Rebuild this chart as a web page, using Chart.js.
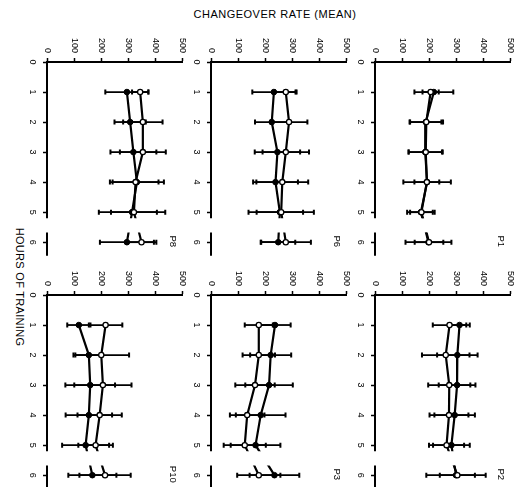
<!DOCTYPE html>
<html>
<head>
<meta charset="utf-8">
<script src="https://cdn.jsdelivr.net/npm/chart.js@4.4.0/dist/chart.umd.min.js"></script>
<style>
  html, body { margin: 0; padding: 0; background: #fff; }
  #page {
    position: relative; width: 524px; height: 487px; overflow: hidden;
    background: #fff; color: #000;
    font-family: "Liberation Sans", Arial, sans-serif;
  }
  #page canvas { position: absolute; }
  .title {
    position: absolute; left: 155px; top: 9px; width: 240px;
    text-align: center; font-size: 11px; line-height: 11px; letter-spacing: 0.5px;
  }
  .hlabel {
    position: absolute; left: -50px; top: 281px; width: 140px; height: 12px;
    line-height: 12px; text-align: center; font-size: 11px; letter-spacing: 0.3px;
    transform: rotate(90deg);
  }
</style>
</head>
<body>
<div id="page">
  <div class="title">CHANGEOVER RATE (MEAN)</div>
  <div class="hlabel">HOURS OF TRAINING</div>
  <canvas id="p8"></canvas>
  <canvas id="p6"></canvas>
  <canvas id="p1"></canvas>
  <canvas id="p10"></canvas>
  <canvas id="p3"></canvas>
  <canvas id="p2"></canvas>
</div>
<script>
// Data
const hours = [1, 2, 3, 4, 5, 6];
const valueTicks = [0, 100, 200, 300, 400, 500];
const hourTicks = [0, 1, 2, 3, 4, 5, 6];

const p8Filled = [296, 308, 320, 333, 315, 296];
const p8FilledSd = [80, 58, 85, 100, 123, 100];
const p8Open = [345, 355, 355, 328, 322, 350];
const p8OpenSd = [30, 73, 85, 85, 85, 55];

const p6Filled = [233, 225, 246, 239, 255, 249];
const p6FilledSd = [80, 62, 84, 83, 86, 63];
const p6Open = [277, 289, 277, 264, 260, 277];
const p6OpenSd = [40, 68, 86, 96, 121, 93];

const p1Filled = [218, 188, 186, 193, 170, 198];
const p1FilledSd = [72, 58, 62, 88, 51, 85];
const p1Open = [206, 190, 188, 192, 172, 200];
const p1OpenSd = [30, 62, 63, 46, 42, 53];

const p10Filled = [118, 155, 160, 155, 143, 168];
const p10FilledSd = [43, 50, 92, 86, 87, 89];
const p10Open = [217, 201, 207, 195, 180, 215];
const p10OpenSd = [62, 103, 106, 82, 64, 95];

const p3Filled = [237, 221, 215, 184, 165, 235];
const p3FilledSd = [58, 76, 88, 92, 92, 92];
const p3Open = [177, 177, 163, 134, 125, 177];
const p3OpenSd = [52, 60, 73, 64, 78, 80];

const p2Filled = [313, 305, 304, 295, 283, 300];
const p2FilledSd = [38, 75, 68, 75, 68, 110];
const p2Open = [276, 262, 275, 274, 265, 305];
const p2OpenSd = [62, 88, 78, 72, 65, 65];

// Break in the hours axis between hour 5 and hour 6
const breakFrom = 5.2;
const breakTo = 5.68;

const PAD_L = 32, PAD_T = 32, PAD_R = 14, PAD_B = 4;
const AREA_W = 135, AREA_H = 195;

const panels = [
  { id: 'p8', name: 'P8', x0: 47, y0: 62, filled: p8Filled, filledSd: p8FilledSd, open: p8Open, openSd: p8OpenSd },
  { id: 'p6', name: 'P6', x0: 211, y0: 62, filled: p6Filled, filledSd: p6FilledSd, open: p6Open, openSd: p6OpenSd },
  { id: 'p1', name: 'P1', x0: 375, y0: 62, filled: p1Filled, filledSd: p1FilledSd, open: p1Open, openSd: p1OpenSd },
  { id: 'p10', name: 'P10', x0: 47, y0: 295, filled: p10Filled, filledSd: p10FilledSd, open: p10Open, openSd: p10OpenSd },
  { id: 'p3', name: 'P3', x0: 211, y0: 295, filled: p3Filled, filledSd: p3FilledSd, open: p3Open, openSd: p3OpenSd },
  { id: 'p2', name: 'P2', x0: 375, y0: 295, filled: p2Filled, filledSd: p2FilledSd, open: p2Open, openSd: p2OpenSd },
];

const LABEL_FONT = '9px "Liberation Sans", Arial, sans-serif';

function rotatedText(ctx, text, x, y, align) {
  ctx.save();
  ctx.translate(x, y);
  ctx.rotate(Math.PI / 2);
  ctx.textAlign = align;
  ctx.textBaseline = 'middle';
  ctx.fillText(text, 0, 0);
  ctx.restore();
}

// Error bars, axis break, rotated labels
const panelDecor = {
  id: 'panelDecor',
  beforeDatasetsDraw(chart) {
    const ctx = chart.ctx;
    const xs = chart.scales.x;
    const ys = chart.scales.y;
    ctx.save();
    ctx.strokeStyle = '#000';
    chart.data.datasets.forEach((ds) => {
      ds.data.forEach((pt, i) => {
        const e = ds.sd[i];
        const xl = xs.getPixelForValue(pt.x - e);
        const xr = xs.getPixelForValue(pt.x + e);
        const y = ys.getPixelForValue(pt.y);
        ctx.lineWidth = 1.8;
        ctx.beginPath();
        ctx.moveTo(xl, y);
        ctx.lineTo(xr, y);
        ctx.stroke();
        ctx.lineWidth = 2;
        ctx.beginPath();
        ctx.moveTo(xl, y - 2.5);
        ctx.lineTo(xl, y + 2.5);
        ctx.moveTo(xr, y - 2.5);
        ctx.lineTo(xr, y + 2.5);
        ctx.stroke();
      });
    });
    ctx.restore();

    // hide the connecting lines inside the axis break
    const yb1 = ys.getPixelForValue(breakFrom);
    const yb2 = ys.getPixelForValue(breakTo);
    ctx.save();
    ctx.beginPath();
    ctx.rect(0, 0, chart.width, yb1);
    ctx.rect(0, yb2, chart.width, chart.height - yb2);
    ctx.clip();
  },
  afterDatasetsDraw(chart) {
    const ctx = chart.ctx;
    ctx.restore();

    const xs = chart.scales.x;
    const ys = chart.scales.y;
    const area = chart.chartArea;

    // hours axis, drawn in two pieces
    ctx.save();
    ctx.strokeStyle = '#000';
    ctx.lineWidth = 2;
    ctx.beginPath();
    ctx.moveTo(area.left, ys.getPixelForValue(0) - 1);
    ctx.lineTo(area.left, ys.getPixelForValue(breakFrom));
    ctx.moveTo(area.left, ys.getPixelForValue(breakTo));
    ctx.lineTo(area.left, area.bottom);
    ctx.stroke();

    ctx.fillStyle = '#000';
    ctx.font = LABEL_FONT;
    valueTicks.forEach((v) => {
      rotatedText(ctx, String(v), xs.getPixelForValue(v), area.top - 9, 'right');
    });
    hourTicks.forEach((h) => {
      rotatedText(ctx, String(h), area.left - 14.5, ys.getPixelForValue(h), 'center');
    });

    ctx.font = '9.5px "Liberation Sans", Arial, sans-serif';
    rotatedText(ctx, chart.options.plugins.panelDecor.name,
      xs.getPixelForValue(465), ys.getPixelForValue(5.97), 'center');
    ctx.restore();
  },
};

function makePanel(p) {
  const canvas = document.getElementById(p.id);
  canvas.width = PAD_L + AREA_W + PAD_R;
  canvas.height = PAD_T + AREA_H + PAD_B;
  canvas.style.left = (p.x0 - PAD_L) + 'px';
  canvas.style.top = (p.y0 - PAD_T) + 'px';

  return new Chart(canvas, {
    type: 'scatter',
    data: {
      datasets: [
        {
          data: hours.map((h, i) => ({ x: p.open[i], y: h })),
          sd: p.openSd,
          showLine: true,
          borderColor: '#000',
          borderWidth: 2.2,
          pointRadius: 2.6,
          pointBorderWidth: 1.3,
          pointBorderColor: '#000',
          pointBackgroundColor: '#fff',
        },
        {
          data: hours.map((h, i) => ({ x: p.filled[i], y: h })),
          sd: p.filledSd,
          showLine: true,
          borderColor: '#000',
          borderWidth: 2.2,
          pointRadius: 2.8,
          pointBorderWidth: 1,
          pointBorderColor: '#000',
          pointBackgroundColor: '#000',
        },
      ],
    },
    options: {
      responsive: false,
      animation: false,
      events: [],
      layout: {
        padding: { left: PAD_L, top: PAD_T, right: PAD_R, bottom: PAD_B },
      },
      plugins: {
        legend: { display: false },
        tooltip: { enabled: false },
        panelDecor: { name: p.name },
      },
      scales: {
        x: {
          type: 'linear',
          position: 'top',
          min: 0,
          max: 500,
          afterBuildTicks: (s) => {
            s.ticks = valueTicks.map((v) => ({ value: v }));
          },
          afterFit: (s) => {
            s.height = 0;
          },
          ticks: { display: false },
          grid: {
            drawOnChartArea: false,
            drawTicks: true,
            tickLength: 4,
            tickWidth: 1.5,
            tickColor: '#000',
          },
          border: { display: true, color: '#000', width: 2 },
        },
        y: {
          type: 'linear',
          position: 'left',
          reverse: true,
          min: 0,
          max: 6.45,
          afterBuildTicks: (s) => {
            s.ticks = hourTicks.map((v) => ({ value: v }));
          },
          afterFit: (s) => {
            s.width = 0;
          },
          ticks: { display: false },
          grid: {
            drawOnChartArea: false,
            drawTicks: true,
            tickLength: 4,
            tickWidth: 1.5,
            tickColor: '#000',
          },
          border: { display: false },
        },
      },
    },
    plugins: [panelDecor],
  });
}

panels.forEach(makePanel);
</script>
</body>
</html>
